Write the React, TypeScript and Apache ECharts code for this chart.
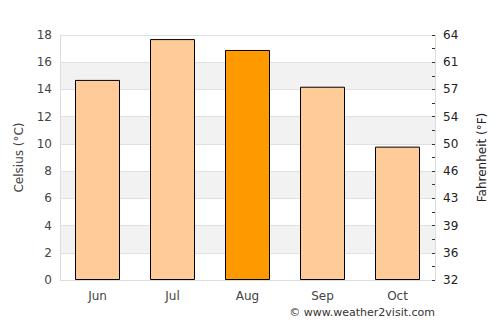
import React, { useEffect, useRef } from "react";
import * as echarts from "echarts";

const months = ["Jun", "Jul", "Aug", "Sep", "Oct"];
const celsius = [14.7, 17.7, 16.9, 14.2, 9.8];
const highlightIndex = 2;
const fahrenheitLabels = ["32", "36", "39", "43", "46", "50", "54", "57", "61", "64"];

export default function App() {
  const ref = useRef<HTMLDivElement>(null);
  useEffect(() => {
    const chart = echarts.init(ref.current!, null, { renderer: "svg" });
    const font = "DejaVu Sans";
    chart.setOption({
      animation: false,
      textStyle: { fontFamily: font },
      grid: { left: 60, right: 65, top: 35, bottom: 45 },
      xAxis: {
        type: "category",
        data: months,
        axisLine: { show: true, lineStyle: { color: "#dddddd" } },
        axisTick: { show: false },
        axisLabel: { color: "#444", fontSize: 12, margin: 10, fontFamily: font },
      },
      yAxis: [
        {
          type: "value",
          min: 0,
          max: 18,
          interval: 2,
          name: "Celsius (°C)",
          nameLocation: "middle",
          nameGap: 35,
          nameTextStyle: { color: "#444", fontSize: 12, fontFamily: font },
          axisLine: { show: true, lineStyle: { color: "#dddddd" } },
          axisTick: { show: false },
          axisLabel: { color: "#444", fontSize: 12, margin: 8, fontFamily: font },
          splitLine: { show: true, lineStyle: { color: "#e0e0e0" } },
          splitArea: { show: true, areaStyle: { color: ["#ffffff", "#f2f2f2"] } },
        },
        {
          type: "value",
          min: 0,
          max: 18,
          interval: 2,
          position: "right",
          name: "Fahrenheit (°F)",
          nameLocation: "middle",
          nameGap: 41,
          nameTextStyle: { color: "#222", fontSize: 12, fontFamily: font },
          axisLine: { show: true, lineStyle: { color: "#dddddd" } },
          axisTick: { show: true, inside: true, length: 3, lineStyle: { color: "#333" } },
          minorTick: { show: true, splitNumber: 2, length: 3, lineStyle: { color: "#333" } },
          axisLabel: {
            color: "#222",
            fontSize: 12,
            margin: 8,
            fontFamily: font,
            formatter: (v: number) => fahrenheitLabels[Math.round(v / 2)] ?? "",
          },
          splitLine: { show: false },
        },
      ],
      series: [
        {
          type: "bar",
          yAxisIndex: 0,
          barWidth: "60%",
          data: celsius.map((v, i) => ({
            value: v,
            itemStyle: {
              color: i === highlightIndex ? "#ff9900" : "#ffcc99",
              borderColor: "#000",
              borderWidth: 1,
            },
          })),
        },
      ],
      graphic: [
        {
          type: "text",
          right: 65,
          top: 307,
          style: {
            text: "© www.weather2visit.com",
            fill: "#333",
            fontSize: 11,
            fontFamily: font,
          },
        },
      ],
    });
    return () => chart.dispose();
  }, []);
  return (
    <div
      ref={ref}
      style={{ position: "fixed", left: 0, top: 0, width: 500, height: 325, background: "#fff" }}
    />
  );
}
